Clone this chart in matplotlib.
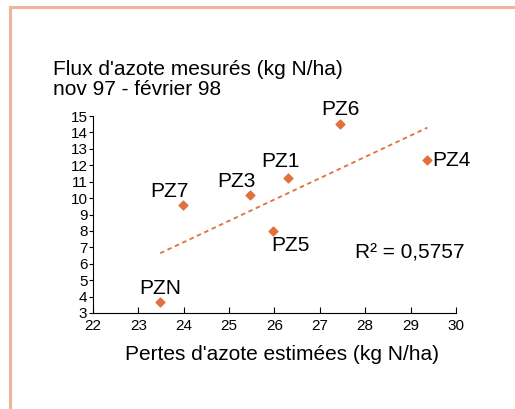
import numpy as np
import matplotlib
matplotlib.use("Agg")
import matplotlib.pyplot as plt
from matplotlib.lines import Line2D

plt.rcParams['font.family'] = ['Liberation Sans', 'DejaVu Sans']

# data
names = ["PZ6", "PZ4", "PZ1", "PZ3", "PZ7", "PZ5", "PZN"]
pertes = [27.45, 29.37, 26.3, 25.46, 23.98, 25.96, 23.48]
flux = [14.5, 12.3, 11.2, 10.2, 9.55, 8.0, 3.65]
x_ticks = list(range(22, 31))
y_ticks = list(range(3, 16))

# label offsets in pixels (dx, dy, ha)
label_pos = {
    "PZ6": (0, 15, "center"),
    "PZ4": (5, 0, "left"),
    "PZ1": (-8, 17, "center"),
    "PZ3": (-14, 13, "center"),
    "PZ7": (-13, 14, "center"),
    "PZ5": (18, -15, "center"),
    "PZN": (0, 14, "center"),
}

orange = "#E0703C"
W, H = 515, 409
fig = plt.figure(figsize=(W / 100, H / 100), dpi=100)

# salmon frame (only top and left edges visible)
fig.add_artist(Line2D([10 / W, 1.0], [1 - 7 / H, 1 - 7 / H], color="#F0B49C", lw=2.2))
fig.add_artist(Line2D([10 / W, 10 / W], [0, 1 - 7 / H], color="#F0B49C", lw=2.2))

ax = fig.add_axes([93 / W, 1 - 313 / H, (456 - 93) / W, (313 - 116) / H])

x = np.array(pertes)
y = np.array(flux)
slope, icpt = np.polyfit(x, y, 1)
xs = np.array([x.min(), x.max()])
ax.plot(xs, slope * xs + icpt, color=orange, lw=1.3, ls=(0, (2.5, 2)))
ax.scatter(x, y, marker="D", s=20, color=orange, zorder=3)

for n, xv, yv in zip(names, pertes, flux):
    dx, dy, ha = label_pos[n]
    ax.annotate(n, (xv, yv), xytext=(dx, dy), textcoords="offset pixels",
                ha=ha, va="center", fontsize=15)

ax.text(355 / W, 1 - 253 / H, "R² = 0,5757", transform=fig.transFigure,
        ha="left", va="center", fontsize=15)

ax.set_xlim(22, 30)
ax.set_ylim(3, 15)
ax.set_xticks(x_ticks)
ax.set_yticks(y_ticks)
ax.tick_params(axis="x", direction="in", length=4, pad=4, labelsize=11)
ax.tick_params(axis="y", direction="out", length=3, pad=1, labelsize=11)
for s in ["top", "right"]:
    ax.spines[s].set_visible(False)
ax.set_facecolor("none")

fig.text(53 / W, 1 - 75 / H, "Flux d'azote mesurés (kg N/ha)", fontsize=15, va="baseline")
fig.text(53 / W, 1 - 95 / H, "nov 97 - février 98", fontsize=15, va="baseline")
fig.text(282 / W, 1 - 355 / H, "Pertes d'azote estimées (kg N/ha)", fontsize=15,
         ha="center", va="center")

fig.savefig("out.png", dpi=100)
